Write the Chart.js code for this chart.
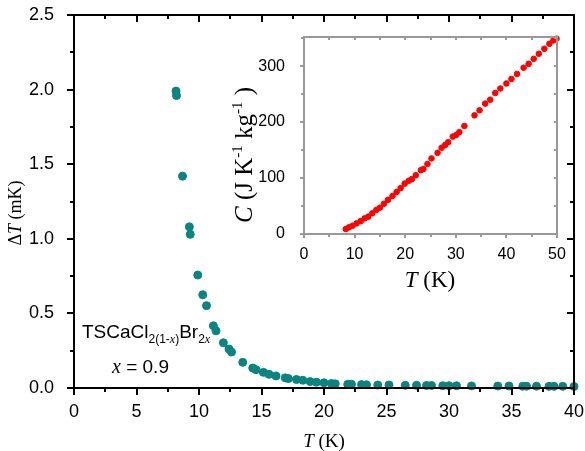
<!DOCTYPE html>
<html>
<head>
<meta charset="utf-8">
<script src="https://cdn.jsdelivr.net/npm/chart.js@4/dist/chart.umd.min.js"></script>
<style>
  html, body { margin: 0; padding: 0; background: #fff; }
  #wrap { position: relative; width: 585px; height: 451px; }
  #mainChart { position: absolute; left: 0; top: 0; }
  #insetChart { position: absolute; left: 220px; top: 25px; }
</style>
</head>
<body>
<div id="wrap">
  <canvas id="mainChart" width="585" height="451"></canvas>
  <canvas id="insetChart" width="350" height="275"></canvas>
</div>
<script>
// temperature change vs temperature (main panel)
const dtTemps = [8.16, 8.2, 8.68, 9.23, 9.3, 9.9, 10.3, 10.6, 11.15, 11.36,
  11.95, 12.4, 12.6, 13.5, 14.3, 14.56, 15.15, 15.6, 16.16, 16.9,
  17.15, 17.8, 18.3, 18.9, 19.4, 20.0, 20.6, 20.9, 21.9, 22.2,
  23.0, 23.4, 24.3, 25.2, 26.5, 27.4, 28.2, 28.6, 29.5, 30.0,
  30.6, 31.8, 33.9, 34.8, 35.9, 36.2, 37.0, 38.0, 38.4, 39.1, 40.0];
const dtValues = [1.99, 1.96, 1.42, 1.08, 1.03, 0.757, 0.625, 0.552, 0.417, 0.383,
  0.303, 0.261, 0.241, 0.172, 0.134, 0.123, 0.105, 0.092, 0.081, 0.068,
  0.063, 0.057, 0.052, 0.043, 0.039, 0.035, 0.030, 0.028, 0.025, 0.025,
  0.023, 0.022, 0.020, 0.020, 0.018, 0.018, 0.017, 0.017, 0.015, 0.015,
  0.015, 0.014, 0.013, 0.013, 0.012, 0.012, 0.012, 0.011, 0.011, 0.011, 0.010];

// specific heat vs temperature (inset)
const cTemps = [8.26, 8.9, 9.6, 10.4, 11.2, 12.0, 12.7, 13.5, 14.3, 15.0,
  15.8, 16.6, 17.5, 18.3, 19.1, 19.9, 20.7, 21.3, 22.1, 23.1,
  23.6, 24.4, 25.2, 26.4, 27.2, 27.9, 28.5, 29.4, 30.1, 30.7,
  31.7, 33.7, 34.7, 35.8, 36.8, 37.8, 38.8, 40.0, 41.0, 42.1,
  43.4, 44.4, 45.4, 46.4, 47.5, 48.5, 49.3, 49.9];
const cValues = [8.9, 11.9, 14.8, 19, 23, 28, 31, 37, 43, 47,
  54, 61, 68, 75, 82, 90, 95, 98, 105, 114,
  116, 125, 135, 145, 154, 159, 164, 174, 177, 182,
  193, 212, 221, 233, 240, 252, 260, 269, 277, 286,
  297, 304, 313, 322, 331, 340, 346, 349];

const mainXTicks = [0, 5, 10, 15, 20, 25, 30, 35, 40];
const mainYTicks = [0, 0.5, 1.0, 1.5, 2.0, 2.5];
const insetXTicks = [0, 10, 20, 30, 40, 50];
const insetYTicks = [0, 100, 200, 300];

const SANS = '"Liberation Sans", Arial, sans-serif';
const SERIF = '"Liberation Serif", "Times New Roman", serif';

// draws a row of text pieces with their own fonts, centred on (cx, y)
function drawRuns(ctx, runs, cx, y, align) {
  let total = 0;
  runs.forEach(r => { ctx.font = r.font; r.w = ctx.measureText(r.t).width; total += r.w; });
  let x = align === 'left' ? cx : cx - total / 2;
  ctx.textAlign = 'left';
  ctx.textBaseline = 'alphabetic';
  runs.forEach(r => {
    ctx.font = r.font;
    ctx.fillText(r.t, x, y + (r.dy || 0));
    x += r.w;
  });
}

// pixel-snapped box frame with major/minor ticks on all four sides, plus free text
function frameTicks(cfg) {
  return {
    id: 'frameTicks',
    afterDraw(chart) {
      const ctx = chart.ctx, a = chart.chartArea;
      const xs = chart.scales.x, ys = chart.scales.y;
      const w = cfg.lineWidth;
      const L = Math.round(a.left), R = Math.round(a.right);
      const T = Math.round(a.top), B = Math.round(a.bottom);
      ctx.save();
      ctx.fillStyle = cfg.color;
      ctx.fillRect(L - 1, T - 1, R - L + w, w);
      ctx.fillRect(L - 1, B - 1, R - L + w, w);
      ctx.fillRect(L - 1, T - 1, w, B - T + w);
      ctx.fillRect(R - 1, T - 1, w, B - T + w);
      const isMajor = (v, m) => Math.abs(v / m - Math.round(v / m)) < 1e-6;
      const vals = (sc, step) => {
        const n = Math.floor((sc.max - sc.min) / step + 1e-6), out = [];
        for (let i = 0; i <= n; i++) out.push(sc.min + i * step);
        return out;
      };
      cfg.sides.forEach(s => {
        const sc = (s.side === 'bottom' || s.side === 'top') ? xs : ys;
        vals(sc, s.step).forEach(v => {
          const len = isMajor(v, s.major) ? s.len : s.minorLen;
          const p = Math.round(sc.getPixelForValue(v)) - 1;
          if (s.side === 'bottom') ctx.fillRect(p, s.out ? B : B - len, w, len);
          if (s.side === 'top') ctx.fillRect(p, s.out ? T - len : T, w, len);
          if (s.side === 'left') ctx.fillRect(s.out ? L - len : L, p, len, w);
          if (s.side === 'right') ctx.fillRect(s.out ? R : R - len, p, len, w);
        });
      });
      ctx.fillStyle = '#000';
      cfg.texts.forEach(t => {
        ctx.save();
        ctx.translate(t.x, t.y);
        if (t.rotate) ctx.rotate(-Math.PI / 2);
        drawRuns(ctx, t.runs, 0, 0, t.align);
        ctx.restore();
      });
      ctx.restore();
    }
  };
}

function tickCallback(list, digits) {
  return v => list.some(t => Math.abs(t - v) < 1e-6) ? v.toFixed(digits) : '';
}

// labelled bottom/left axes with fixed sizes
function boxScales(o) {
  const font = { family: SANS, size: o.fontSize };
  return {
    x: {
      type: 'linear', position: 'bottom', min: o.xMin, max: o.xMax,
      grid: { display: false }, border: { display: false },
      ticks: { stepSize: o.xStep, padding: o.xPad, color: '#000', font, maxRotation: 0,
        callback: tickCallback(o.xTicks, 0) },
      afterFit: s => { s.height = o.xHeight; s.paddingLeft = 0; s.paddingRight = 0; }
    },
    y: {
      type: 'linear', position: 'left', min: o.yMin, max: o.yMax,
      grid: { display: false }, border: { display: false },
      ticks: { stepSize: o.yStep, padding: o.yPad, color: '#000', font,
        callback: tickCallback(o.yTicks, o.yDigits) },
      afterFit: s => { s.width = o.yWidth; s.paddingTop = 0; s.paddingBottom = 0; }
    }
  };
}

new Chart(document.getElementById('mainChart'), {
  type: 'scatter',
  data: {
    datasets: [{
      data: dtTemps.map((t, i) => ({ x: t, y: dtValues[i] })),
      backgroundColor: '#0a8480',
      borderColor: '#0a8480',
      borderWidth: 1,
      pointRadius: 4,
      clip: 6
    }]
  },
  options: {
    responsive: false,
    animation: false,
    layout: { padding: { left: 0, right: 11, top: 15, bottom: 0 } },
    plugins: { legend: { display: false }, tooltip: { enabled: false } },
    scales: boxScales({
      xMin: 0, xMax: 40, xStep: 5, xTicks: mainXTicks, xPad: 5, xHeight: 63,
      yMin: 0, yMax: 2.5, yStep: 0.5, yTicks: mainYTicks, yDigits: 1, yPad: 12, yWidth: 74,
      fontSize: 18
    })
  },
  plugins: [frameTicks({
    color: '#000',
    lineWidth: 2,
    sides: [
      { side: 'bottom', step: 2.5, major: 5, len: 7, minorLen: 4, out: true },
      { side: 'top', step: 2.5, major: 5, len: 7, minorLen: 4, out: false },
      { side: 'left', step: 0.25, major: 0.5, len: 7, minorLen: 4, out: true },
      { side: 'right', step: 0.25, major: 0.5, len: 7, minorLen: 4, out: false }
    ],
    texts: [
      { x: 324, y: 447, runs: [
        { t: 'T', font: 'italic 19px ' + SERIF },
        { t: ' (K)', font: '19px ' + SERIF }] },
      { x: 21, y: 213, rotate: true, runs: [
        { t: '\u0394', font: '18px ' + SERIF },
        { t: 'T', font: 'italic 18px ' + SERIF },
        { t: ' (mK)', font: '18px ' + SERIF }] },
      { x: 82, y: 338, align: 'left', runs: [
        { t: 'TSCaCl', font: '19px ' + SANS },
        { t: '2(1-', font: '12px ' + SANS, dy: 5 },
        { t: 'x', font: 'italic 12px ' + SERIF, dy: 5 },
        { t: ')', font: '12px ' + SANS, dy: 5 },
        { t: 'Br', font: '19px ' + SANS },
        { t: '2', font: '12px ' + SANS, dy: 5 },
        { t: 'x', font: 'italic 12px ' + SERIF, dy: 5 }] },
      { x: 112, y: 373, align: 'left', runs: [
        { t: 'x', font: 'italic 20px ' + SERIF },
        { t: ' = 0.9', font: '19px ' + SANS }] }
    ]
  })]
});

new Chart(document.getElementById('insetChart'), {
  type: 'scatter',
  data: {
    datasets: [{
      data: cTemps.map((t, i) => ({ x: t, y: cValues[i] })),
      backgroundColor: '#ff0000',
      borderColor: '#ff0000',
      borderWidth: 1,
      pointRadius: 2.8,
      clip: 5
    }]
  },
  options: {
    responsive: false,
    animation: false,
    layout: { padding: { left: 0, right: 13, top: 12, bottom: 0 } },
    plugins: { legend: { display: false }, tooltip: { enabled: false } },
    scales: boxScales({
      xMin: 0, xMax: 50, xStep: 10, xTicks: insetXTicks, xPad: 3, xHeight: 66,
      yMin: 0, yMax: 352, yStep: 100, yTicks: insetYTicks, yDigits: 0, yPad: 11, yWidth: 84,
      fontSize: 16
    })
  },
  plugins: [frameTicks({
    color: '#999',
    lineWidth: 2,
    sides: [
      { side: 'bottom', step: 5, major: 10, len: 4, minorLen: 3, out: true },
      { side: 'top', step: 5, major: 10, len: 3, minorLen: 3, out: false },
      { side: 'left', step: 50, major: 100, len: 4, minorLen: 3, out: true },
      { side: 'right', step: 50, major: 100, len: 3, minorLen: 3, out: false }
    ],
    texts: [
      { x: 210, y: 262, runs: [
        { t: 'T', font: 'italic 23px ' + SERIF },
        { t: ' (K)', font: '23px ' + SERIF }] },
      { x: 32, y: 130, rotate: true, runs: [
        { t: 'C', font: 'italic 25px ' + SERIF },
        { t: ' (J K', font: '25px ' + SERIF },
        { t: '-1', font: '15px ' + SERIF, dy: -10 },
        { t: ' kg', font: '25px ' + SERIF },
        { t: '-1', font: '15px ' + SERIF, dy: -10 },
        { t: ' )', font: '25px ' + SERIF }] }
    ]
  })]
});
</script>
</body>
</html>
